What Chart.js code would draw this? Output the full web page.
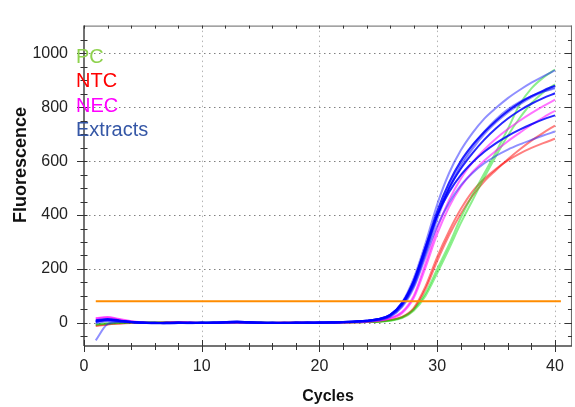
<!DOCTYPE html>
<html lang="en">
<head>
  <meta charset="UTF-8">
  <title>Amplification plot</title>
  <script src="https://cdn.jsdelivr.net/npm/chart.js"></script>
  <style>
    html, body { margin: 0; padding: 0; background: #fff; }
    #wrap { width: 575px; height: 407px; position: relative; }
  </style>
</head>
<body>
  <div id="wrap"><canvas id="pcr"></canvas></div>

  <script>
    // cycle numbers and axis labels
    const cycles = [1,2,3,4,5,6,7,8,9,10,11,12,13,14,15,16,17,18,19,20,
                    21,22,23,24,25,26,27,28,29,30,31,32,33,34,35,36,37,38,39,40];
    const xTicks = [0, 10, 20, 30, 40];
    const yTicks = [0, 200, 400, 600, 800, 1000];

    const threshold = 80;
    const thresholdSpan = [1, 40.5];

    // fluorescence readings, one array per well
    const pc1  = [-5,-2,0,2,3,1,0,-1,0,1,0,-1,0,2,1,0,1,0,-1,0,1,1,2,3, 4,9,20,50,110,200,290,390,475,555,635,720,810,870,910,940];
    const pc2  = [-8,-3,-1,1,2,2,1,0,-1,0,1,0,-1,0,1,0,0,1,0,0,1,1,2,3, 4,8,18,45,100,185,275,370,455,540,620,695,760,815,855,885];
    const ntc1 = [-10,-5,-2,0,1,0,2,3,1,0,-1,0,1,0,-1,0,0,1,0,-1,0,1,2,3, 5,10,20,50,125,230,325,405,472,525,567,607,643,676,705,732];
    const ntc2 = [-12,-6,-3,-1,0,1,2,2,0,-1,0,1,0,0,1,-1,0,0,1,0,0,1,2,3, 5,11,22,55,135,245,340,422,488,535,572,603,628,649,667,683];
    const nec1 = [15,22,14,6,2,0,-1,1,0,-1,0,1,0,1,-1,0,0,1,0,0,1,2,3,5, 9,18,40,100,220,350,455,535,595,643,684,719,750,778,804,828];
    const nec2 = [18,20,12,5,1,-1,0,0,1,0,-1,0,1,0,0,-1,1,0,0,1,0,1,2,4, 8,16,36,92,205,330,430,505,560,602,639,674,705,735,762,787];
    const ext1 = [-65,-5,3,2,0,-1,1,0,-2,1,0,2,1,-1,0,1,-1,0,2,1,0,2,4,6, 12,28,75,165,295,440,555,640,705,758,798,834,864,891,915,937];
    const ext2 = [8,12,8,3,0,-1,0,1,-1,0,1,3,5,2,0,-1,0,1,0,1,2,3,5,8, 14,30,72,155,280,415,520,600,660,708,750,786,816,841,862,880];
    const ext3 = [5,10,6,2,-1,0,-2,0,1,-1,0,1,2,0,-1,0,1,-1,0,1,1,3,4,7, 12,26,65,140,262,395,505,590,655,710,756,792,820,841,858,870];
    const ext4 = [10,14,9,4,1,-2,-1,0,0,-1,1,2,4,3,1,0,-1,0,1,0,2,2,5,8, 13,28,68,145,268,400,500,572,630,680,722,758,788,813,834,852];
    const ext5 = [3,11,7,3,0,0,-2,-1,0,1,0,1,3,1,0,-1,-1,0,0,1,1,3,5,8, 14,30,72,155,280,400,485,548,596,635,667,694,717,737,755,770];
    const ext6 = [-3,6,5,2,0,-1,0,1,-1,0,0,1,2,1,0,0,-1,1,0,0,1,2,3,6, 10,22,58,130,245,360,445,510,556,592,620,643,662,679,695,710];
    const ext7 = [6,9,7,3,1,0,-1,0,1,0,-1,2,3,1,0,1,0,-1,0,1,1,2,4,6, 11,24,62,135,255,385,495,580,645,700,744,781,811,837,858,875];

    const legendLabels = ['PC', 'NTC', 'NEC', 'Extracts'];
    const legendColors = ['#8fd24f', '#ff0000', '#ff00ff', '#3557a6'];

    const LIGHT_BLUE = 'rgba(20,20,255,0.48)';
    const DARK_BLUE = 'rgba(0,0,255,0.85)';
    const GREEN = 'rgba(0,220,0,0.45)';
    const RED = 'rgba(255,0,0,0.5)';
    const MAGENTA = 'rgba(255,0,255,0.55)';

    function curve(values, color) {
      return {
        data: cycles.map((c, i) => ({ x: c, y: values[i] })),
        borderColor: color,
        borderWidth: 2,
        pointRadius: 0,
        fill: false,
        cubicInterpolationMode: 'monotone'
      };
    }

    // dataset 0 is drawn last (on top)
    const datasets = [
      {
        data: thresholdSpan.map(c => ({ x: c, y: threshold })),
        borderColor: '#ff8c00',
        borderWidth: 2,
        pointRadius: 0,
        fill: false
      },
      curve(ext2, DARK_BLUE), curve(ext4, DARK_BLUE), curve(ext5, DARK_BLUE),
      curve(ext1, LIGHT_BLUE), curve(ext3, LIGHT_BLUE), curve(ext6, LIGHT_BLUE), curve(ext7, LIGHT_BLUE),
      curve(nec1, MAGENTA), curve(nec2, MAGENTA),
      curve(pc1, GREEN), curve(pc2, GREEN),
      curve(ntc1, RED), curve(ntc2, RED)
    ];

    function seg(ctx, x1, y1, x2, y2) {
      ctx.beginPath();
      ctx.moveTo(x1, y1);
      ctx.lineTo(x2, y2);
      ctx.stroke();
    }

    const framePlugin = {
      id: 'frame',
      beforeDatasetsDraw(chart) {
        const { ctx, chartArea: a, scales: { x, y } } = chart;
        ctx.save();
        ctx.lineWidth = 1;
        ctx.setLineDash([1.5, 3.5]);
        ctx.strokeStyle = '#808080';
        yTicks.forEach(v => {
          const py = Math.round(y.getPixelForValue(v)) + 0.5;
          seg(ctx, a.left, py, a.right, py);
        });
        ctx.strokeStyle = '#b4b4b4';
        xTicks.filter(v => v > 0).forEach(v => {
          const px = Math.round(x.getPixelForValue(v)) + 0.5;
          seg(ctx, px, a.top, px, a.bottom);
        });
        ctx.restore();
      },
      afterDatasetsDraw(chart) {
        const { ctx, chartArea: a, scales: { x, y } } = chart;
        ctx.save();
        // frame
        ctx.strokeStyle = '#666';
        ctx.lineWidth = 1;
        seg(ctx, a.left, a.top + 0.5, a.right, a.top + 0.5);
        seg(ctx, a.right - 0.5, a.top, a.right - 0.5, a.bottom);
        ctx.strokeStyle = '#444';
        ctx.lineWidth = 1.5;
        seg(ctx, a.left, a.bottom, a.right, a.bottom);
        seg(ctx, a.left, a.top, a.left, a.bottom);

        // tick marks
        ctx.lineWidth = 1;
        ctx.strokeStyle = '#333';
        for (let c = 0; c <= 40; c += 2) {
          const px = Math.round(x.getPixelForValue(c)) + 0.5;
          const major = c % 10 === 0;
          seg(ctx, px, a.bottom - (major ? 6 : 3), px, a.bottom + (major ? 6 : 4));
          seg(ctx, px, a.top, px, a.top + 3);
        }
        for (let v = -50; v <= 1050; v += 50) {
          const py = Math.round(y.getPixelForValue(v)) + 0.5;
          const major = v % 200 === 0;
          seg(ctx, a.left - (major ? 7 : 3.5), py, a.left + 3.5, py);
          seg(ctx, a.right - (major ? 7 : 4), py, a.right, py);
        }

        // legend
        ctx.font = '20px "Liberation Sans", Arial, sans-serif';
        ctx.textAlign = 'left';
        ctx.textBaseline = 'alphabetic';
        legendLabels.forEach((t, i) => {
          ctx.fillStyle = legendColors[i];
          ctx.fillText(t, 76, 63 + i * 24.3);
        });

        // y axis title
        ctx.translate(26, 165);
        ctx.rotate(-Math.PI / 2);
        ctx.font = 'bold 18px "Liberation Sans", Arial, sans-serif';
        ctx.fillStyle = '#111';
        ctx.textAlign = 'center';
        ctx.fillText('Fluorescence', 0, 0);
        ctx.restore();
      }
    };

    const tickFont = { family: '"Liberation Sans", Arial, sans-serif', size: 16 };

    new Chart(document.getElementById('pcr'), {
      type: 'line',
      data: { datasets },
      plugins: [framePlugin],
      options: {
        responsive: true,
        maintainAspectRatio: false,
        animation: false,
        events: [],
        layout: { padding: { top: 15, right: 3, left: 0, bottom: 0 } },
        plugins: { legend: { display: false }, tooltip: { enabled: false } },
        scales: {
          x: {
            type: 'linear',
            min: 0,
            max: 41.44,
            afterBuildTicks: s => { s.ticks = xTicks.map(v => ({ value: v })); },
            afterFit: s => { s.height = 61; },
            grid: { display: false, drawTicks: false },
            border: { display: false },
            ticks: { font: tickFont, color: '#222', padding: 11, maxRotation: 0, callback: v => String(v) },
            title: {
              display: true,
              text: 'Cycles',
              color: '#111',
              font: { family: '"Liberation Sans", Arial, sans-serif', size: 16, weight: 'bold' },
              padding: { top: 0, bottom: 1 }
            }
          },
          y: {
            min: -86,
            max: 1103,
            afterBuildTicks: s => { s.ticks = yTicks.map(v => ({ value: v })); },
            afterFit: s => { s.width = 84; },
            grid: { display: false, drawTicks: false },
            border: { display: false },
            ticks: { font: tickFont, color: '#222', padding: 16, callback: v => String(v) }
          }
        }
      }
    });
  </script>
</body>
</html>
